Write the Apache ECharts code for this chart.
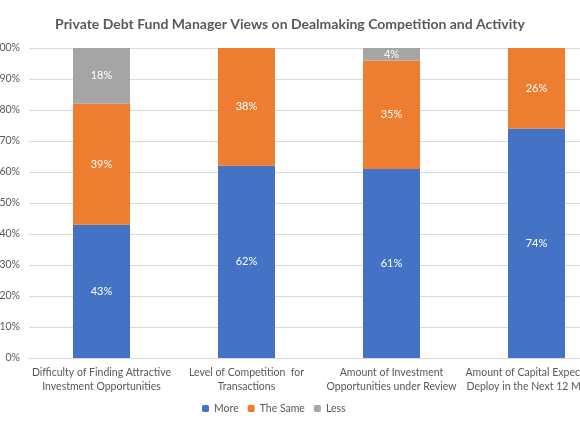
<!DOCTYPE html>
<html><head><meta charset="utf-8">
<script src="https://cdn.jsdelivr.net/npm/echarts@6/dist/echarts.min.js"></script>
<style>html,body{margin:0;padding:0;background:#fff}#c{width:580px;height:435px}</style>
</head><body><div id="c"></div>
<script>
const categories = [
  "Difficulty of Finding Attractive\nInvestment Opportunities",
  "Level of Competition  for\nTransactions",
  "Amount of Investment\nOpportunities under Review",
  "Amount of Capital Expected to\nDeploy in the Next 12 Months"
];
const more = [43, 62, 61, 74];
const theSame = [39, 38, 35, 26];
const less = [18, null, 4, null];
const yTicks = [0, 100, 10];

const chart = echarts.init(document.getElementById('c'));
const lbl = {show: true, position: 'inside', color: '#fff', fontSize: 11, fontFamily: 'Lato', formatter: p => p.value + '%'};
chart.setOption({
  animation: false,
  title: {text: 'Private Debt Fund Manager Views on Dealmaking Competition and Activity', left: 'center', top: 12,
    textStyle: {fontFamily: 'Lato', fontSize: 14, fontWeight: 'bold', color: '#595959'}},
  legend: {bottom: 16, left: 197, itemWidth: 7, itemHeight: 7, itemGap: 9,
    textStyle: {fontFamily: 'Lato', fontSize: 10.5, color: '#595959'},
    data: ['More', 'The Same', 'Less']},
  grid: {left: 29, right: -29, top: 48, bottom: 77, containLabel: false, outerBoundsMode: 'none'},
  xAxis: {type: 'category', data: categories,
    axisLine: {lineStyle: {color: '#d9d9d9'}}, axisTick: {show: false},
    axisLabel: {fontFamily: 'Lato', fontSize: 10.5, color: '#595959', lineHeight: 14, margin: 8, interval: 0, hideOverlap: false}},
  yAxis: {type: 'value', min: yTicks[0], max: yTicks[1], interval: yTicks[2],
    axisLabel: {formatter: '{value}%', fontFamily: 'Lato', fontSize: 10.5, color: '#595959', margin: 9},
    splitLine: {lineStyle: {color: '#d9d9d9'}}, axisLine: {show: false}, axisTick: {show: false}},
  series: [
    {name: 'More', type: 'bar', stack: 's', data: more, barWidth: 57, itemStyle: {color: '#4472C4'}, label: lbl},
    {name: 'The Same', type: 'bar', stack: 's', data: theSame, itemStyle: {color: '#ED7D31'}, label: lbl},
    {name: 'Less', type: 'bar', stack: 's', data: less, itemStyle: {color: '#A5A5A5'}, label: lbl}
  ]
});
</script></body></html>
